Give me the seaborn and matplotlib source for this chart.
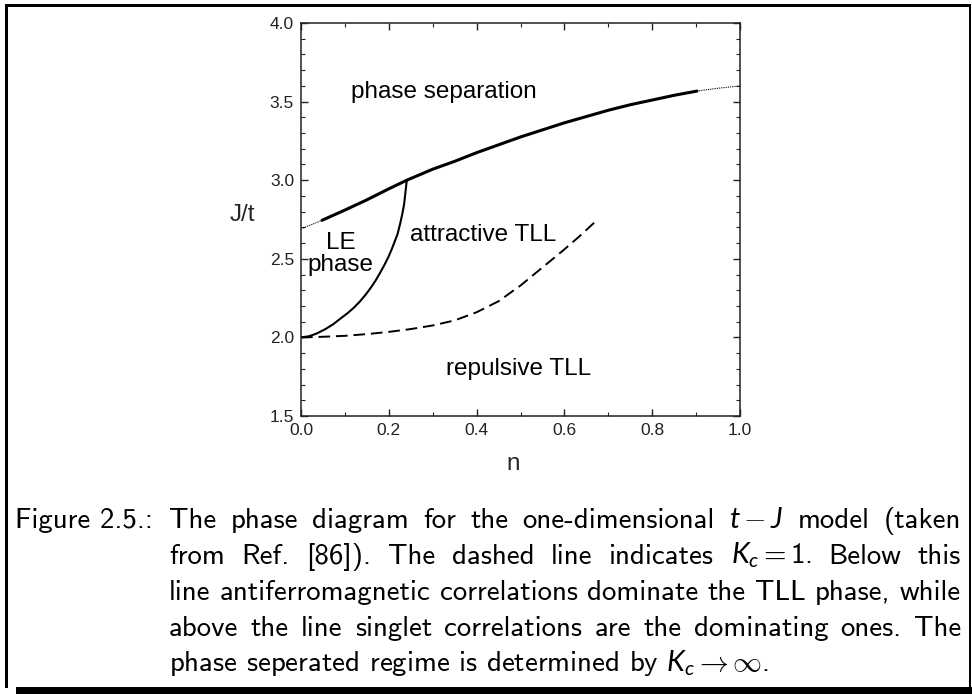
import matplotlib
matplotlib.use("Agg")
import matplotlib.pyplot as plt
import seaborn as sns
from matplotlib.patches import Rectangle
from matplotlib.ticker import MultipleLocator, FormatStrFormatter

# Phase-separation boundary (solid part, computed region)
ps_n = [0.048, 0.1, 0.15, 0.2, 0.241, 0.3, 0.35, 0.4, 0.45, 0.5, 0.55,
        0.6, 0.65, 0.7, 0.75, 0.8, 0.85, 0.902]
ps_J = [2.745, 2.81, 2.875, 2.945, 3.0, 3.07, 3.12, 3.175, 3.225, 3.275, 3.32,
        3.365, 3.405, 3.445, 3.48, 3.51, 3.54, 3.567]
# Extrapolations of that boundary towards n = 0 and n = 1 (dotted)
ext_lo_n = [0.0, 0.048]
ext_lo_J = [2.69, 2.745]
ext_hi_n = [0.902, 0.95, 1.0]
ext_hi_J = [3.567, 3.585, 3.60]
# Boundary of the Luther-Emery phase
le_n = [0.0, 0.018, 0.036, 0.055, 0.073, 0.09, 0.106, 0.12, 0.134, 0.147, 0.159,
        0.17, 0.18, 0.19, 0.199, 0.207, 0.214, 0.22, 0.226, 0.231, 0.235, 0.238,
        0.240, 0.241]
le_J = [2.0, 2.007, 2.025, 2.052, 2.083, 2.12, 2.154, 2.188, 2.228, 2.271, 2.316,
        2.362, 2.41, 2.461, 2.511, 2.563, 2.614, 2.658, 2.725, 2.788, 2.85, 2.925,
        2.975, 3.0]
# K_c = 1 line (dashed)
kc_n = [0.0, 0.05, 0.1, 0.15, 0.2, 0.25, 0.3, 0.35, 0.4, 0.45, 0.5, 0.55, 0.6,
        0.635, 0.668]
kc_J = [2.0, 2.004, 2.01, 2.021, 2.035, 2.053, 2.076, 2.108, 2.16, 2.23, 2.33,
        2.445, 2.56, 2.645, 2.73]

region_labels = ["phase separation", "LE", "phase", "attractive TLL", "repulsive TLL"]
region_n = [0.326, 0.091, 0.089, 0.415, 0.495]
region_J = [3.56, 2.60, 2.46, 2.65, 1.80]

caption_head = "Figure 2.5.:"
caption_lines = [
    ["The", "phase", "diagram", "for", "the", "one-dimensional", "$t-J$", "model", "(taken"],
    ["from", "Ref.", "[86]).", "The", "dashed", "line", "indicates", "$K_c=1$.", "Below", "this"],
    ["line", "antiferromagnetic", "correlations", "dominate", "the", "TLL", "phase,", "while"],
    ["above", "the", "line", "singlet", "correlations", "are", "the", "dominating", "ones.", "The"],
]
caption_last = r"phase seperated regime is determined by $K_c \to \infty$."

sns.set_theme(style="ticks")
plt.rcParams["font.family"] = ["Liberation Sans", "DejaVu Sans"]
plt.rcParams["mathtext.fontset"] = "custom"
plt.rcParams["mathtext.rm"] = "cmss10"
plt.rcParams["mathtext.it"] = "Lato:italic"
plt.rcParams["mathtext.fallback"] = "cm"
plt.rcParams["axes.edgecolor"] = "#222222"
plt.rcParams["xtick.color"] = "#222222"
plt.rcParams["ytick.color"] = "#222222"
plt.rcParams["text.color"] = "black"

W, H = 972, 694
fig = plt.figure(figsize=(W / 100, H / 100), dpi=100)
ax = fig.add_axes([301 / W, 1 - 416 / H, 439 / W, 393 / H])

sns.lineplot(x=ps_n, y=ps_J, ax=ax, color="black", lw=2.2, sort=False, estimator=None)
sns.lineplot(x=ext_lo_n, y=ext_lo_J, ax=ax, color="black", lw=0.8,
             linestyle=(0, (1, 1)), sort=False, estimator=None)
sns.lineplot(x=ext_hi_n, y=ext_hi_J, ax=ax, color="black", lw=0.8,
             linestyle=(0, (1, 1)), sort=False, estimator=None)
sns.lineplot(x=le_n, y=le_J, ax=ax, color="black", lw=1.5, sort=False, estimator=None)
sns.lineplot(x=kc_n, y=kc_J, ax=ax, color="black", lw=1.4,
             linestyle=(0, (6, 3)), sort=False, estimator=None)

for lab, xn, yj in zip(region_labels, region_n, region_J):
    ax.text(xn, yj, lab, fontsize=17.5, ha="center", va="center", color="black")

ax.set_xlim(0, 1)
ax.set_ylim(1.5, 4.0)
ax.xaxis.set_major_locator(MultipleLocator(0.2))
ax.xaxis.set_minor_locator(MultipleLocator(0.1))
ax.yaxis.set_major_locator(MultipleLocator(0.5))
ax.yaxis.set_minor_locator(MultipleLocator(0.1))
ax.xaxis.set_major_formatter(FormatStrFormatter("%.1f"))
ax.yaxis.set_major_formatter(FormatStrFormatter("%.1f"))
ax.tick_params(which="both", direction="in", top=True, right=True)
ax.tick_params(which="major", length=5, width=1, labelsize=12.5, pad=5)
ax.tick_params(which="minor", length=3, width=0.8)
for s in ax.spines.values():
    s.set_linewidth(1.1)

ax.set_xlabel("n", fontsize=17.5)
ax.set_ylabel("J/t", fontsize=17.5, rotation=0, va="center", ha="center")
ax.xaxis.set_label_coords((513 - 301) / 439, (416 - 453) / 393)
ax.yaxis.set_label_coords((242 - 301) / 439, (416 - 215) / 393)

# Caption, justified between the left indent and the right margin
cap_font = "cmss10"
cap_size = 20.8
baselines = [528, 564, 600, 636, 671]
x_left, x_right = 169, 961
fig.text(15 / W, 1 - baselines[0] / H, caption_head, fontsize=cap_size,
         family=cap_font, va="baseline", ha="left")
fig.canvas.draw()
renderer = fig.canvas.get_renderer()
for tokens, b in zip(caption_lines, baselines[:4]):
    arts = [fig.text(0, 1 - b / H, t, fontsize=cap_size, family=cap_font,
                     va="baseline", ha="left") for t in tokens]
    widths = [a.get_window_extent(renderer).width for a in arts]
    gap = (x_right - x_left - sum(widths)) / (len(tokens) - 1)
    x = x_left
    for a, w in zip(arts, widths):
        a.set_x(x / W)
        x += w + gap
fig.text(x_left / W, 1 - baselines[4] / H, caption_last, fontsize=cap_size,
         family=cap_font, va="baseline", ha="left")

# Shadowed frame around figure and caption
def bar(x0, y0, x1, y1):
    fig.add_artist(Rectangle((x0 / W, 1 - y1 / H), (x1 - x0) / W, (y1 - y0) / H,
                             transform=fig.transFigure, color="black", lw=0))

bar(5, 4, 971, 7)
bar(5, 4, 8, 688)
bar(969, 4, 971, 688)
bar(16, 687, 972, 694)

fig.savefig("out.png", dpi=100)
